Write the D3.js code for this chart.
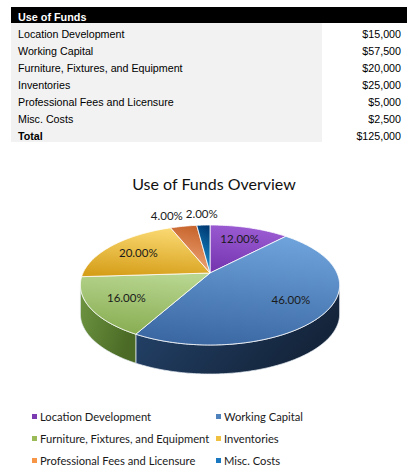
<!DOCTYPE html>
<html>
<head>
<meta charset="utf-8">
<script src="https://cdn.jsdelivr.net/npm/d3@7"></script>
<style>
  body { margin: 0; background: #fff; }
  svg { display: block; }
</style>
</head>
<body>
<div id="chart"></div>
<script>
// -------- Data --------
const tableTitle = 'Use of Funds';
const chartTitle = 'Use of Funds Overview';
const totalLabel = 'Total';
const categories = [
  'Location Development',
  'Working Capital',
  'Furniture, Fixtures, and Equipment',
  'Inventories',
  'Professional Fees and Licensure',
  'Misc. Costs'
];
const amounts = [15000, 57500, 20000, 25000, 5000, 2500];

// -------- Colours --------
const topColors  = [['#9c5dd4', '#7536b0'], ['#6ea2da', '#3b68a3'], ['#b8d690', '#88ad52'],
                    ['#fad972', '#d69f1a'], ['#c6622a', '#f1aa7c'], ['#003a74', '#1d9ddb']];
const sideColors = [['#6a3092', '#4a1f6a'], ['#25466f', '#14243a'], ['#6f9642', '#4a6a25'],
                    ['#c08b18', '#8f6610'], ['#c06030', '#8a4020'], ['#005090', '#003060']];
const keyColors  = ['#7a3cb0', '#4f81bd', '#9bbb59', '#f0c040', '#f79646', '#1a78c0'];

const W = 416, H = 475;
const fmt = d3.format('$,');
const pctFmt = d3.format('.2%');

const svg = d3.select('#chart').append('svg')
  .attr('width', W).attr('height', H);
const defs = svg.append('defs');

// -------- Table --------
const rows = categories.map((c, i) => ({ name: c, value: amounts[i] }));
const tableRows = rows.concat([{ name: totalLabel, value: d3.sum(amounts), total: true }]);

const tbl = { x: 11, y: 7, w: 396, headH: 16, rowH: 17, labelW: 311, padL: 7, valRight: 401 };
const rowY = d3.scaleBand()
  .domain(d3.range(tableRows.length))
  .range([tbl.y + tbl.headH, tbl.y + tbl.headH + tbl.rowH * tableRows.length]);

svg.append('rect')
  .attr('x', tbl.x).attr('y', tbl.y)
  .attr('width', tbl.w).attr('height', tbl.headH)
  .attr('fill', '#000');
svg.append('text')
  .attr('x', tbl.x + tbl.padL).attr('y', tbl.y + tbl.headH - 2.5)
  .attr('font-family', 'Liberation Sans, Arial, sans-serif')
  .attr('font-size', 10.8).attr('font-weight', 'bold')
  .attr('fill', '#fff')
  .text(tableTitle);

svg.append('rect')
  .attr('x', tbl.x).attr('y', rowY(0))
  .attr('width', tbl.labelW).attr('height', rowY.step() * tableRows.length)
  .attr('fill', '#f2f2f2');

const rowG = svg.selectAll('g.row')
  .data(tableRows)
  .join('g')
    .attr('class', 'row')
    .attr('transform', (d, i) => `translate(0,${rowY(i) + rowY.bandwidth() - 2.5})`)
    .attr('font-family', 'Liberation Sans, Arial, sans-serif')
    .attr('font-size', 10.7)
    .attr('fill', '#000');
rowG.append('text')
  .attr('x', tbl.x + tbl.padL)
  .attr('font-weight', d => d.total ? 'bold' : null)
  .text(d => d.name);
rowG.append('text')
  .attr('x', tbl.valRight)
  .attr('text-anchor', 'end')
  .text(d => fmt(d.value));

// -------- Chart title --------
svg.append('text')
  .attr('x', 214).attr('y', 190)
  .attr('text-anchor', 'middle')
  .attr('font-family', 'Lato, sans-serif')
  .attr('font-size', 16)
  .attr('fill', '#111')
  .text(chartTitle);

// -------- 3D pie --------
const P = { cx: 210, cy: 273, sx: 127, sy: 57.6, k: 0.2, depth: 29 };
// perspective projection of a point on the tilted disc (angle clockwise from 12 o'clock)
function proj(theta, r, dz = 0) {
  const a = r * Math.sin(theta), b = r * Math.cos(theta);
  const d = 1 + P.k * b;
  return [P.cx + P.sx * a / d, P.cy - P.sy * b / d + dz];
}
function arcPts(a0, a1, r, dz) {
  const n = Math.max(2, Math.ceil((a1 - a0) / (Math.PI / 180)));
  return d3.range(n + 1).map(i => proj(a0 + (a1 - a0) * i / n, r, dz));
}
const line = d3.line();

const pieGen = d3.pie().value(d => d.value).sort(null);
const slices = pieGen(rows);

slices.forEach((s, i) => {
  const gt = defs.append('linearGradient').attr('id', `top${i}`)
    .attr('x1', 0.6).attr('y1', 0).attr('x2', 0.4).attr('y2', 1);
  gt.append('stop').attr('offset', 0).attr('stop-color', topColors[i][0]);
  gt.append('stop').attr('offset', 1).attr('stop-color', topColors[i][1]);
  const gs = defs.append('linearGradient').attr('id', `side${i}`)
    .attr('x1', 0).attr('y1', 0).attr('x2', 1).attr('y2', 0.4);
  gs.append('stop').attr('offset', 0).attr('stop-color', sideColors[i][0]);
  gs.append('stop').attr('offset', 1).attr('stop-color', sideColors[i][1]);
});

const pieG = svg.append('g');

// visible outer wall lies between the two silhouette angles
const thS = Math.acos(-P.k), thE = 2 * Math.PI - thS;
const sideData = slices.map((s, i) => ({
  i, a0: Math.max(s.startAngle, thS), a1: Math.min(s.endAngle, thE)
})).filter(d => d.a1 > d.a0);

pieG.selectAll('path.side')
  .data(sideData)
  .join('path')
    .attr('class', 'side')
    .attr('d', d => line(arcPts(d.a0, d.a1, 1, 0).concat(arcPts(d.a0, d.a1, 1, P.depth).reverse())) + 'Z')
    .attr('fill', d => `url(#side${d.i})`)
    .attr('stroke', '#e8eef5')
    .attr('stroke-width', 0.7);

pieG.selectAll('path.top')
  .data(slices)
  .join('path')
    .attr('class', 'top')
    .attr('d', d => line([proj(0, 0)].concat(arcPts(d.startAngle, d.endAngle, 1, 0))) + 'Z')
    .attr('fill', (d, i) => `url(#top${i})`)
    .attr('stroke', '#ffffff')
    .attr('stroke-width', 0.8)
    .attr('stroke-linejoin', 'round');

// -------- Data labels --------
const labels = slices.map(s => {
  const share = s.value / d3.sum(amounts);
  const mid = (s.startAngle + s.endAngle) / 2;
  const outside = share < 0.05;
  const [x, y] = proj(mid, outside ? 1.3 : 0.72);
  return { x, y, text: pctFmt(share), outside };
});

const labelSel = svg.append('g')
  .attr('font-family', 'Lato, sans-serif')
  .attr('font-size', 11.5)
  .attr('fill', '#1a1a1a')
  .selectAll('text')
  .data(labels)
  .join('text')
    .attr('text-anchor', 'middle')
    .attr('dominant-baseline', 'central')
    .attr('x', d => d.x).attr('y', d => d.y)
    .text(d => d.text);

// push overlapping outside labels leftwards
const outNodes = labelSel.filter(d => d.outside).nodes();
for (let j = outNodes.length - 2; j >= 0; j--) {
  const a = outNodes[j], b = outNodes[j + 1];
  const da = d3.select(a).datum(), db = d3.select(b).datum();
  const wa = a.getComputedTextLength(), wb = b.getComputedTextLength();
  const rightA = da.x + wa / 2, leftB = db.x - wb / 2;
  if (rightA > leftB - 3) {
    da.x = leftB - 3 - wa / 2;
    d3.select(a).attr('x', da.x);
  }
}

// -------- Legend --------
const legendCols = [32, 216];
const legendTop = 416.5, legendStep = 22;
const legend = svg.append('g')
  .attr('font-family', 'Lato, sans-serif')
  .attr('font-size', 11.2)
  .attr('fill', '#1a1a1a')
  .selectAll('g')
  .data(categories)
  .join('g')
    .attr('transform', (d, i) => `translate(${legendCols[i % 2]},${legendTop + legendStep * Math.floor(i / 2)})`);
legend.append('rect')
  .attr('x', 0).attr('y', -2.5)
  .attr('width', 5).attr('height', 5)
  .attr('fill', (d, i) => keyColors[i]);
legend.append('text')
  .attr('x', 8)
  .attr('dominant-baseline', 'central')
  .text(d => d);
</script>
</body>
</html>
